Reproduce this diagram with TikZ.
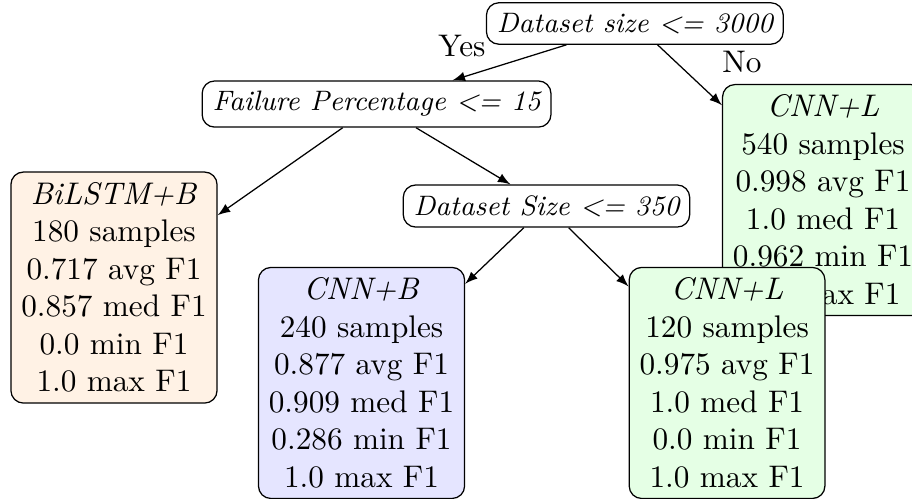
\documentclass[tikz,border=0pt]{standalone}
\usepackage{tikz}
\usepackage{xcolor}
\usetikzlibrary{arrows, positioning}

\tikzset{
    split/.style={draw, rounded corners, font=\small\itshape},
    leaf/.style={draw, rounded corners, align=center},
}

\begin{document}
\begin{tikzpicture}
    \useasboundingbox (0, 0) rectangle (10.257, -5.601);

    \node[split] (root) at (7.14, -0.264) {Dataset size <= 3000};
    \node[split] (fail) at (4.235, -1.17) {Failure Percentage <= 15};
    \node[split] (size) at (6.146, -2.317) {Dataset Size <= 350};

    \node[leaf, fill=orange!10] (bilstm) at (1.282, -3.234) {\textit{BiLSTM+B}\\180 samples\\0.717 avg F1\\0.857 med F1\\0.0 min F1\\1.0 max F1};
    \node[leaf, fill=green!10] (cnnlbig) at (9.256, -2.25) {\textit{CNN+L}\\540 samples\\0.998 avg F1\\1.0 med F1\\0.962 min F1\\1.0 max F1};
    \node[leaf, fill=blue!10] (cnnb) at (4.066, -4.307) {\textit{CNN+B}\\240 samples\\0.877 avg F1\\0.909 med F1\\0.286 min F1\\1.0 max F1};
    \node[leaf, fill=green!10] (cnnlsmall) at (8.177, -4.307) {\textit{CNN+L}\\120 samples\\0.975 avg F1\\1.0 med F1\\0.0 min F1\\1.0 max F1};

    \node (yes) at (5.196, -0.517) {Yes};
    \node (no) at (8.345, -0.697) {No};

    \draw
    (root) edge[-latex] (fail)
    (root) edge[-latex] (cnnlbig)
    (fail) edge[-latex] (bilstm)
    (fail) edge[-latex] (size)
    (size) edge[-latex] (cnnb)
    (size) edge[-latex] (cnnlsmall);
\end{tikzpicture}
\end{document}
